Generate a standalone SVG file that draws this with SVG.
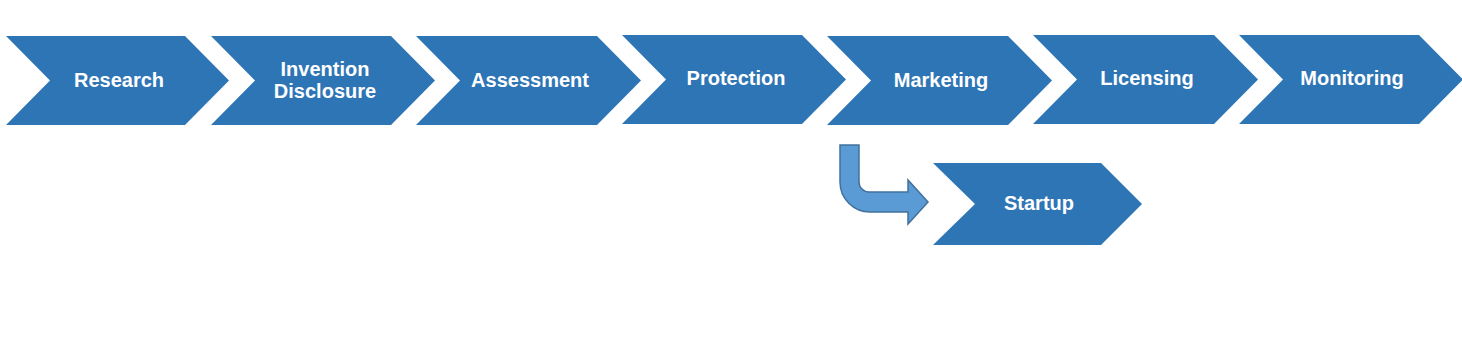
<svg xmlns="http://www.w3.org/2000/svg" width="1462" height="348" viewBox="0 0 1462 348">
<style>
.chev{fill:#2e75b6}
.lbl{font-family:"Liberation Sans",Arial,sans-serif;font-weight:bold;font-size:20px;fill:#ffffff;text-anchor:middle}
.bend{fill:#5b9bd5;stroke:#41719c;stroke-width:1.5}
</style>
<rect width="1462" height="348" fill="#ffffff"/>
<g id="research"><path class="chev" d="M6,36 L185,36 L229,80.5 L185,125 L6,125 L50,80.5 Z"/><text class="lbl" x="119" y="87">Research</text></g>
<g id="invention"><path class="chev" d="M211,36 L391,36 L435,80.5 L391,125 L211,125 L255,80.5 Z"/><text class="lbl" x="325" y="76">Invention</text><text class="lbl" x="325" y="98">Disclosure</text></g>
<g id="assessment"><path class="chev" d="M416,36 L597,36 L641,80.5 L597,125 L416,125 L460,80.5 Z"/><text class="lbl" x="530" y="87">Assessment</text></g>
<g id="protection"><path class="chev" d="M622,35 L802,35 L846,79.5 L802,124 L622,124 L666,79.5 Z"/><text class="lbl" x="736" y="85">Protection</text></g>
<g id="marketing"><path class="chev" d="M827,36 L1008,36 L1052,80.5 L1008,125 L827,125 L871,80.5 Z"/><text class="lbl" x="941" y="87">Marketing</text></g>
<g id="licensing"><path class="chev" d="M1033,35 L1214,35 L1258,79.5 L1214,124 L1033,124 L1077,79.5 Z"/><text class="lbl" x="1147" y="85">Licensing</text></g>
<g id="monitoring"><path class="chev" d="M1239,35 L1419,35 L1463,79.5 L1419,124 L1239,124 L1283,79.5 Z"/><text class="lbl" x="1352" y="85">Monitoring</text></g>
<g id="startup"><path class="chev" d="M933,163 L1101,163 L1142,204 L1101,245 L933,245 L975,204 Z"/><text class="lbl" x="1039" y="210">Startup</text></g>
<g id="connectors"><path class="bend" d="M840,145 L859,145 L859,182 A10,10 0 0 0 869,192 L908,192 L908,180 L928,202 L908,224 L908,212 L870,212 A30,30 0 0 1 840,182 Z"/></g>
</svg>
